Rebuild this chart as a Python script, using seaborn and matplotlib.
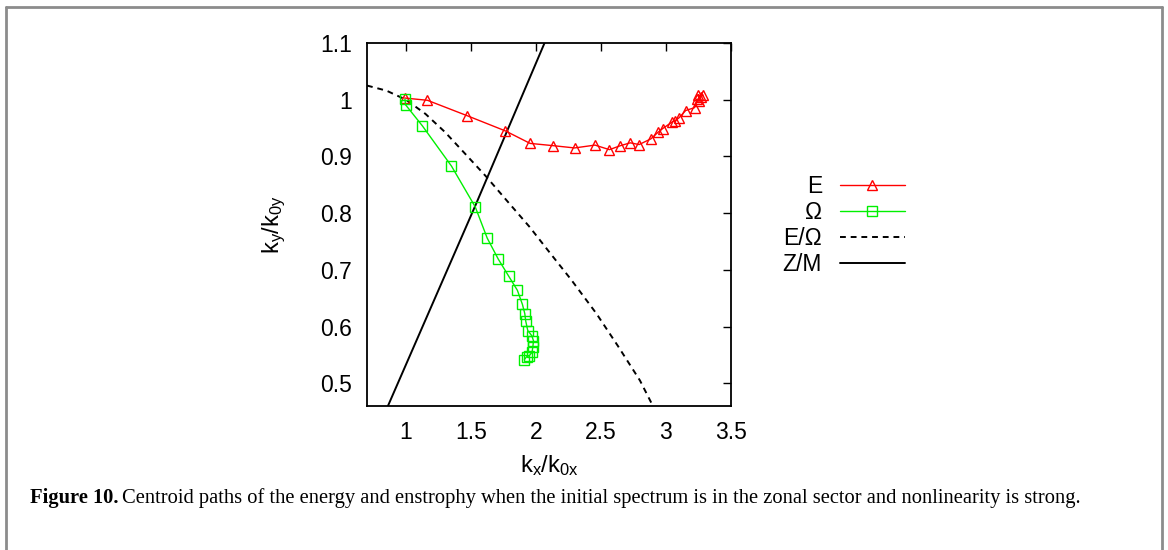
import numpy as np
import pandas as pd
import seaborn as sns
import matplotlib.pyplot as plt
from matplotlib.lines import Line2D

# centroid path of the energy (E)
e_kx = [0.99, 1.165, 1.469, 1.765, 1.955, 2.133, 2.297, 2.454, 2.565, 2.65, 2.725, 2.794,
        2.884, 2.941, 2.974, 3.049, 3.07, 3.10, 3.152, 3.22, 3.237, 3.255, 3.25, 3.268, 3.286]
e_ky = [1.003, 0.999, 0.972, 0.945, 0.923, 0.919, 0.915, 0.920, 0.912, 0.919, 0.924, 0.921,
        0.931, 0.943, 0.949, 0.961, 0.963, 0.968, 0.981, 0.986, 1.001, 0.997, 1.009, 1.005, 1.008]

# centroid path of the enstrophy (Omega)
w_kx = [0.992, 0.997, 1.126, 1.35, 1.533, 1.625, 1.71, 1.79, 1.857, 1.896, 1.914, 1.921,
        1.937, 1.968, 1.981, 1.976, 1.97, 1.95, 1.929, 1.911]
w_ky = [1.001, 0.991, 0.954, 0.883, 0.811, 0.756, 0.719, 0.689, 0.664, 0.639, 0.623, 0.610,
        0.593, 0.584, 0.575, 0.564, 0.555, 0.549, 0.547, 0.542]

# E/Omega boundary (dashed)
eo_kx = [0.70, 0.85, 1.0, 1.15, 1.30, 1.45, 1.615, 1.78, 1.95, 2.104, 2.27, 2.465, 2.63, 2.80, 2.90]
eo_ky = [1.025, 1.016, 1.0, 0.975, 0.943, 0.906, 0.865, 0.821, 0.776, 0.731, 0.683, 0.623,
         0.566, 0.505, 0.46]

# Z/M boundary (solid)
zm_kx = [0.861, 1.533, 2.066]
zm_ky = [0.46, 0.813, 1.10]

sns.set_theme(style="white")
plt.rcParams['font.family'] = ['Liberation Sans', 'DejaVu Sans']
plt.rcParams['mathtext.fontset'] = 'custom'
plt.rcParams['mathtext.rm'] = 'Liberation Sans'
plt.rcParams['mathtext.it'] = 'Liberation Sans'
plt.rcParams['text.color'] = 'black'
plt.rcParams['axes.labelcolor'] = 'black'

fig = plt.figure(figsize=(11.68, 5.5), dpi=100)
ax = fig.add_axes([0.3142, 0.2618, 0.3116, 0.66])

red = "#ff0000"
green = "#00f000"

sns.lineplot(x=zm_kx, y=zm_ky, ax=ax, sort=False, estimator=None, color="black",
             lw=1.4, label="Z/M")
sns.lineplot(x=eo_kx, y=eo_ky, ax=ax, sort=False, estimator=None, color="black",
             lw=1.4, linestyle=(0, (3, 2.5)), label="E/Ω")
sns.lineplot(x=e_kx, y=e_ky, ax=ax, sort=False, estimator=None, color=red, lw=1,
             marker="^", markersize=7, markerfacecolor="none", markeredgecolor=red,
             markeredgewidth=1, label="E")
sns.lineplot(x=w_kx, y=w_ky, ax=ax, sort=False, estimator=None, color=green, lw=1,
             marker="s", markersize=6.5, markerfacecolor="none", markeredgecolor=green,
             markeredgewidth=1, label="Ω")
ax.get_legend().remove()

ax.set_xlim(0.7, 3.5)
ax.set_ylim(0.46, 1.1)
ax.set_xticks([1, 1.5, 2, 2.5, 3, 3.5])
ax.set_xticklabels(["1", "1.5", "2", "2.5", "3", "3.5"])
ax.set_yticks([0.5, 0.6, 0.7, 0.8, 0.9, 1.0, 1.1])
ax.set_yticklabels(["0.5", "0.6", "0.7", "0.8", "0.9", "1", "1.1"])
ax.tick_params(direction="in", length=6, width=1, top=True, right=True,
               labelsize=16.5, colors="black", labelcolor="black", pad=11)
for s in ax.spines.values():
    s.set_color("black")
    s.set_linewidth(1.3)

ax.set_xlabel(r"k$_\mathregular{x}$/k$_\mathregular{0x}$", fontsize=17, labelpad=6)
ax.set_ylabel(r"k$_\mathregular{y}$/k$_\mathregular{0y}$", fontsize=17, labelpad=23)

handles = [
    Line2D([], [], color=red, lw=1, marker="^", markersize=7, markerfacecolor="none",
           markeredgecolor=red),
    Line2D([], [], color=green, lw=1, marker="s", markersize=6.5, markerfacecolor="none",
           markeredgecolor=green),
    Line2D([], [], color="black", lw=1.4, linestyle=(0, (3, 2.5))),
    Line2D([], [], color="black", lw=1.4),
]
fig.legend(handles, ["E", "Ω", "E/Ω", "Z/M"], loc="center left",
           bbox_to_anchor=(0.6603, 0.59), frameon=False, markerfirst=False,
           fontsize=16.5, handlelength=2.8, handletextpad=0.8, labelspacing=0.12,
           borderpad=0, labelcolor="black")

# caption
fig.canvas.draw()
r = fig.canvas.get_renderer()
t1 = fig.text(30 / 1168, 1 - 503 / 550, "Figure 10.", family="Liberation Serif",
              weight="bold", fontsize=14.8, va="baseline", color="black")
bb = t1.get_window_extent(renderer=r)
fig.text((bb.x1 + 4) / 1168, 1 - 503 / 550,
         "Centroid paths of the energy and enstrophy when the initial spectrum is in the "
         "zonal sector and nonlinearity is strong.",
         family="Liberation Serif", fontsize=14.8, va="baseline", color="black")

# grey page frame
fc = "#8c8c8c"
for xs, ys in [([6, 6], [551, 7]), ([6, 1162], [7, 7]), ([1162, 1162], [7, 551])]:
    fig.add_artist(Line2D([x / 1168 for x in xs], [1 - y / 550 for y in ys],
                          color=fc, lw=2, transform=fig.transFigure))

fig.savefig("out.png", dpi=100)
